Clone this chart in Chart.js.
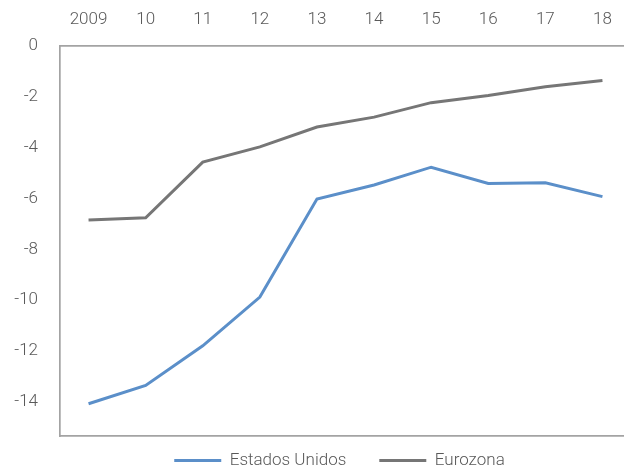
<!DOCTYPE html>
<html>
<head>
<meta charset="utf-8">
<script src="https://cdn.jsdelivr.net/npm/chart.js@4"></script>
<style>
  html, body { margin: 0; padding: 0; background: #fff; overflow: hidden; }
  #wrap { width: 631px; height: 470px; }
</style>
</head>
<body>
<div id="wrap"><canvas id="chart" width="631" height="470"></canvas></div>
<script>
// years along the top axis
const years = ["2009", "10", "11", "12", "13", "14", "15", "16", "17", "18"];
const estadosUnidos = [-14.08, -13.36, -11.8, -9.88, -6.02, -5.47, -4.77, -5.41, -5.38, -5.93];
const eurozona = [-6.85, -6.76, -4.57, -3.97, -3.19, -2.8, -2.23, -1.95, -1.6, -1.36];
const yTicks = [0, -2, -4, -6, -8, -10, -12, -14];

const textColor = "#595959";
const axisColor = "#a3a3a3";
Chart.defaults.font.family = "Roboto, 'Open Sans', sans-serif";
Chart.defaults.font.weight = 300;
Chart.defaults.font.size = 17;
Chart.defaults.color = textColor;

// legend: keep the wide gap between items but sit close under the plot
const legendShift = {
  id: "legendShift",
  afterLayout(chart) {
    const lg = chart.legend;
    lg.top -= 17;
    lg.bottom = chart.height;
    lg.height = lg.bottom - lg.top;
    lg.left -= 6;
    lg.right -= 6;
  },
};

const chart = new Chart(document.getElementById("chart"), {
  type: "line",
  data: {
    labels: years,
    datasets: [
      {
        label: "Estados Unidos",
        data: estadosUnidos,
        borderColor: "#5b8fc9",
        backgroundColor: "#5b8fc9",
        borderWidth: 3,
        pointRadius: 0,
        tension: 0,
      },
      {
        label: "Eurozona",
        data: eurozona,
        borderColor: "#767676",
        backgroundColor: "#767676",
        borderWidth: 3,
        pointRadius: 0,
        tension: 0,
      },
    ],
  },
  options: {
    responsive: false,
    animation: false,
    layout: { padding: 0 },
    scales: {
      x: {
        position: "top",
        offset: true,
        grid: { display: false, drawTicks: false },
        border: { display: true, color: axisColor, width: 1.7 },
        ticks: { padding: 16, maxRotation: 0 },
        afterFit: (scale) => { scale.height = 46; },
      },
      xBottom: {
        type: "category",
        position: "bottom",
        offset: true,
        grid: { display: false, drawTicks: false },
        border: { display: true, color: axisColor, width: 1.7 },
        ticks: { display: false },
        afterFit: (scale) => { scale.height = 0; },
      },
      y: {
        min: -15.35,
        max: 0,
        grid: { display: false, drawTicks: false },
        border: { display: true, color: axisColor, width: 1.7 },
        ticks: { padding: 22 },
        afterBuildTicks: (scale) => {
          scale.ticks = yTicks.map((v) => ({ value: v }));
        },
        afterFit: (scale) => { scale.width = 60; },
      },
    },
    plugins: {
      legend: {
        position: "bottom",
        fullSize: false,
        maxHeight: 34,
        labels: {
          boxWidth: 47,
          boxHeight: 3,
          padding: 33,
          generateLabels: (c) =>
            Chart.defaults.plugins.legend.labels.generateLabels(c).map((l) => ({ ...l, lineWidth: 0 })),
        },
      },
      tooltip: { enabled: false },
    },
  },
  plugins: [legendShift],
});
</script>
</body>
</html>
